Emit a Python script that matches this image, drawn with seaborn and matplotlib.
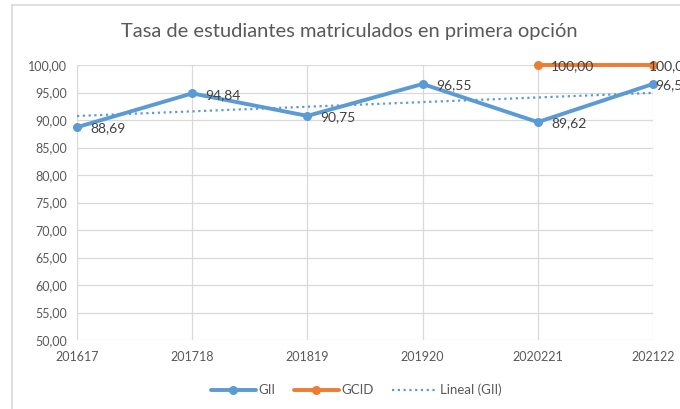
import matplotlib
matplotlib.use("Agg")
import matplotlib.pyplot as plt
from matplotlib.lines import Line2D
import numpy as np
import pandas as pd
import seaborn as sns

# data
cursos = ["201617", "201718", "201819", "201920", "2020221", "202122"]
gii = [88.69, 94.84, 90.75, 96.55, 89.62, 96.55]
gcid = [None, None, None, None, 100.00, 100.00]

azul = "#5B9BD5"
naranja = "#ED7D31"
gris_txt = "#595959"

sns.set_theme(style="white")
plt.rcParams["font.family"] = ["Lato", "DejaVu Sans"]

df = pd.DataFrame({"pos": np.arange(len(cursos)), "GII": gii, "GCID": gcid})

fig = plt.figure(figsize=(6.8, 4.09), dpi=100)
ax = fig.add_axes([77 / 680, 1 - 340 / 409, (653 - 77) / 680, (340 - 65) / 409])

# trend line (linear fit of GII) computed by seaborn
sns.regplot(data=df, x="pos", y="GII", ax=ax, scatter=False, ci=None,
            line_kws=dict(color=azul, lw=1.6, ls=(0, (1, 1.6))))

sns.lineplot(data=df, x="pos", y="GII", ax=ax, color=azul, lw=2.8,
             marker="o", markersize=6.5, markeredgewidth=0, clip_on=False)
d2 = df.dropna(subset=["GCID"])
sns.lineplot(data=d2, x="pos", y="GCID", ax=ax, color=naranja, lw=2.8,
             marker="o", markersize=6.5, markeredgewidth=0, clip_on=False)

def fmt(v):
    return f"{v:.2f}".replace(".", ",")

# labels to the right of each point; the last ones are pushed in like Excel does
dx_gii = [9.5, 9.5, 9.5, 9.5, 9.5, 1.5]
for x, v, dx in zip(df["pos"], gii, dx_gii):
    ax.annotate(fmt(v), (x, v), xytext=(dx, -1), textcoords="offset points",
                fontsize=10, color="#404040", va="center", ha="left",
                annotation_clip=False)
dx_gcid = [9.5, -3]
for x, v, dx in zip(d2["pos"], d2["GCID"], dx_gcid):
    ax.annotate(fmt(v), (x, v), xytext=(dx, -0.5), textcoords="offset points",
                fontsize=10, color="#404040", va="center", ha="left",
                annotation_clip=False)

ax.set_xlim(0, len(cursos) - 1)
ax.set_ylim(50, 100)
ax.set_yticks(np.arange(50, 101, 5))
ax.set_yticklabels([fmt(v) for v in np.arange(50, 101, 5)])
ax.set_xticks(range(len(cursos)))
ax.set_xticklabels(cursos)
ax.tick_params(axis="both", labelsize=9, colors=gris_txt, length=0)
ax.tick_params(axis="x", pad=8)
ax.tick_params(axis="y", pad=7)
ax.set_xlabel("")
ax.set_ylabel("")
ax.grid(True, color="#D9D9D9", lw=0.9)
for s in ax.spines.values():
    s.set_visible(False)
ax.set_axisbelow(True)

fig.text(349 / 680, 1 - 32 / 409, "Tasa de estudiantes matriculados en primera opción",
         ha="center", va="center", fontsize=14.5, color=gris_txt)

handles = [
    Line2D([], [], color=azul, lw=2.8, marker="o", markersize=6.5, markeredgewidth=0),
    Line2D([], [], color=naranja, lw=2.8, marker="o", markersize=6.5, markeredgewidth=0),
    Line2D([], [], color=azul, lw=1.6, ls=(0, (1, 1.6))),
]
fig.legend(handles, ["GII", "GCID", "Lineal (GII)"], loc="center",
           bbox_to_anchor=(356 / 680, 1 - 390 / 409), ncol=3, frameon=False,
           fontsize=9.5, labelcolor=gris_txt, handlelength=3.4, columnspacing=1.4,
           handletextpad=0.2)

# chart-area border (cropped on right and bottom)
fig.add_artist(Line2D([12 / 680, 12 / 680], [0, 1 - 5 / 409], color="#D9D9D9",
                      lw=1.2, transform=fig.transFigure))
fig.add_artist(Line2D([12 / 680, 1], [1 - 5 / 409, 1 - 5 / 409], color="#D9D9D9",
                      lw=1.2, transform=fig.transFigure))

fig.savefig("out.png", dpi=100, facecolor="white")
